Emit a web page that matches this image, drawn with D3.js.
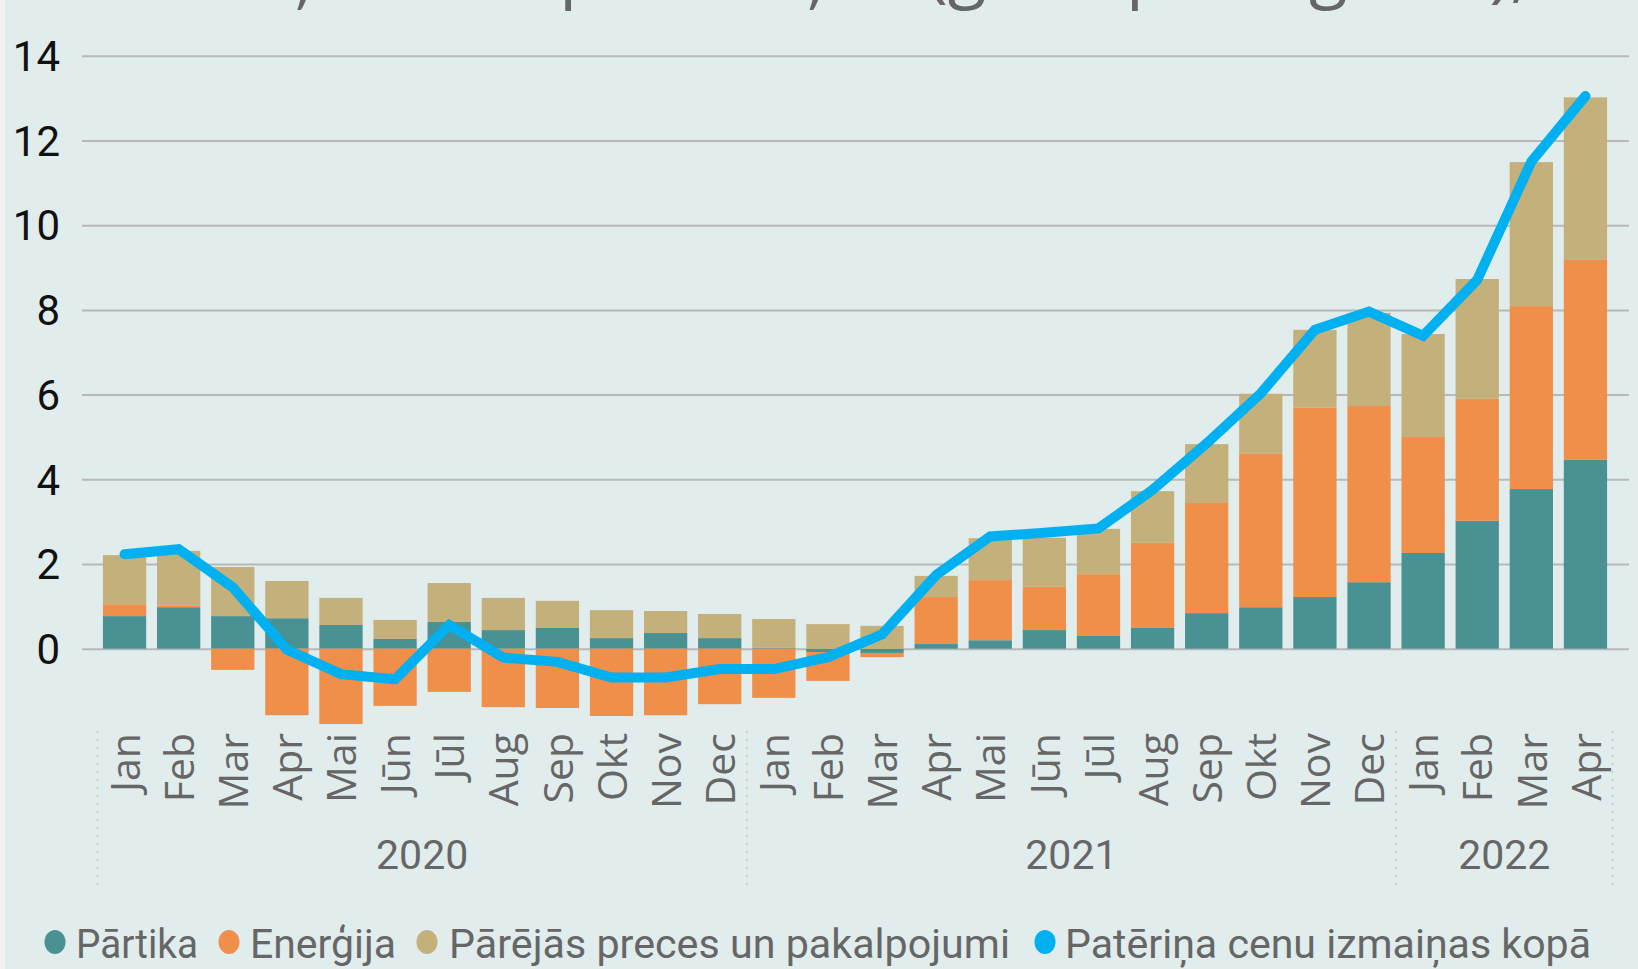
<!DOCTYPE html>
<html>
<head>
<meta charset="utf-8">
<script src="https://cdn.jsdelivr.net/npm/d3@7"></script>
<style>
  html, body { margin: 0; padding: 0; background: #e1eded; overflow: hidden; }
  svg { display: block; }
</style>
</head>
<body>
<div id="chart"></div>
<script>
// ---- data ----
var months = ['Jan','Feb','Mar','Apr','Mai','Jūn','Jūl','Aug','Sep','Okt','Nov','Dec',
              'Jan','Feb','Mar','Apr','Mai','Jūn','Jūl','Aug','Sep','Okt','Nov','Dec',
              'Jan','Feb','Mar','Apr'];
var monthYears = ['2020','2020','2020','2020','2020','2020','2020','2020','2020','2020','2020','2020',
                  '2021','2021','2021','2021','2021','2021','2021','2021','2021','2021','2021','2021',
                  '2022','2022','2022','2022'];
var years = ['2020', '2021', '2022'];

// Pārtika
var food = [0.77, 0.98, 0.77, 0.72, 0.56, 0.23, 0.63, 0.44, 0.49, 0.25, 0.37, 0.25,
            0.02, -0.08, -0.10, 0.11, 0.20, 0.44, 0.30, 0.49, 0.84, 0.98, 1.22, 1.57,
            2.26, 3.02, 3.77, 4.46];
// Enerģija
var energy = [0.28, 0.04, -0.50, -1.57, -1.78, -1.35, -1.02, -1.38, -1.40, -1.59, -1.57, -1.31,
              -1.16, -0.68, -0.10, 1.11, 1.42, 1.02, 1.46, 2.01, 2.60, 3.62, 4.47, 4.16,
              2.74, 2.88, 4.32, 4.72];
// Pārējās preces un pakalpojumi
var other = [1.16, 1.29, 1.16, 0.88, 0.64, 0.45, 0.92, 0.76, 0.64, 0.66, 0.52, 0.57,
             0.68, 0.58, 0.54, 0.50, 0.99, 1.16, 1.07, 1.22, 1.39, 1.42, 1.84, 2.20,
             2.43, 2.83, 3.40, 3.84];
// Patēriņa cenu izmaiņas kopā
var total = [2.23, 2.35, 1.45, -0.02, -0.60, -0.72, 0.56, -0.21, -0.31, -0.68, -0.68, -0.48,
             -0.48, -0.20, 0.34, 1.74, 2.65, 2.74, 2.84, 3.75, 4.85, 6.03, 7.53, 7.96,
             7.39, 8.71, 11.5, 13.05];

var yTicks = [0, 2, 4, 6, 8, 10, 12, 14];
var seriesKeys = ['food', 'energy', 'other'];
var seriesNames = ['Pārtika', 'Enerģija', 'Pārējās preces un pakalpojumi', 'Patēriņa cenu izmaiņas kopā'];
var seriesColors = ['#4a9193', '#f08f4a', '#c4b07b', '#00b0f0'];
var titleGuess = 'Patēriņa cenu pārmaiņas (gada pieaugums), %';

// ---- layout ----
var svgWidth = 1638, svgHeight = 969;
var plotLeft = 82, plotRight = 1629;
var axisFont = "Roboto, 'Open Sans', sans-serif";
var monthFont = "'Open Sans', 'Noto Sans', sans-serif";

var svg = d3.select('#chart').append('svg')
  .attr('width', svgWidth)
  .attr('height', svgHeight);

svg.append('rect').attr('width', svgWidth).attr('height', svgHeight).attr('fill', '#e1eded');
svg.append('rect').attr('width', 5).attr('height', svgHeight).attr('fill', '#f1f3f3');

var data = months.map(function(m, i) {
  return { id: i, month: m, year: monthYears[i], food: food[i], energy: energy[i], other: other[i], total: total[i] };
});

var x = d3.scaleBand()
  .domain(data.map(d => d.id))
  .range([97.5, 1612.5])
  .paddingInner(0.2)
  .paddingOuter(0.1);

var y = d3.scaleLinear()
  .domain([0, 14])
  .range([648.7, 55.8]);

// title, cut off by the top edge (only descenders show)
var title = svg.append('text')
  .attr('y', -5)
  .attr('font-family', monthFont)
  .attr('font-size', 70)
  .attr('fill', '#666')
  .text(titleGuess);
(function fitTitle() {
  var node = title.node();
  var iParen = titleGuess.indexOf('(');
  var iP = titleGuess.indexOf('pieaugums');
  var w1 = node.getSubStringLength(0, iParen);
  var w2 = node.getSubStringLength(0, iP);
  var fs = 70 * (1130 - 931) / (w2 - w1);
  title.attr('font-size', fs);
  var w1b = node.getSubStringLength(0, iParen);
  title.attr('x', 927 - w1b).attr('y', 11 - fs * 0.24);
})();

// gridlines + y labels
var yAxis = svg.append('g')
  .attr('transform', `translate(${plotLeft},0)`)
  .call(d3.axisLeft(y).tickValues(yTicks).tickSize(-(plotRight - plotLeft)).tickPadding(22));
yAxis.select('.domain').remove();
yAxis.selectAll('line').attr('stroke', '#b8b8b8').attr('stroke-width', 2);
yAxis.selectAll('text')
  .attr('font-family', axisFont)
  .attr('font-size', 42)
  .attr('fill', '#111')
  .attr('dy', '0.35em');

// stacked bars (diverging: negatives stack downward from zero)
var stacked = d3.stack().keys(seriesKeys).offset(d3.stackOffsetDiverging)(data);
var barGroups = svg.append('g').selectAll('g')
  .data(stacked)
  .enter()
  .append('g')
  .attr('fill', (d, i) => seriesColors[i]);
barGroups.selectAll('rect')
  .data(d => d)
  .enter()
  .append('rect')
  .attr('x', d => x(d.data.id))
  .attr('width', x.bandwidth())
  .attr('y', d => y(Math.max(d[0], d[1])))
  .attr('height', d => Math.abs(y(d[0]) - y(d[1])));

// total line
var line = d3.line()
  .x(d => x(d.id) + x.bandwidth() / 2)
  .y(d => y(d.total));
svg.append('path')
  .datum(data)
  .attr('d', line)
  .attr('fill', 'none')
  .attr('stroke', seriesColors[3])
  .attr('stroke-width', 10)
  .attr('stroke-linecap', 'round')
  .attr('stroke-linejoin', 'miter');

// month labels
var xAxis = svg.append('g')
  .attr('transform', 'translate(0,733)')
  .call(d3.axisBottom(x).tickSize(0).tickFormat(i => months[i]));
xAxis.select('.domain').remove();
xAxis.selectAll('text')
  .attr('transform', 'rotate(-90)')
  .attr('x', 0)
  .attr('y', 0)
  .attr('dy', '0.37em')
  .attr('text-anchor', 'end')
  .attr('font-family', monthFont)
  .attr('font-size', 41)
  .attr('fill', '#666');

// year groups: separators and labels
var gap = (x.step() - x.bandwidth()) / 2;
var yearSpans = years.map(function(yr) {
  var ids = data.filter(d => d.year === yr).map(d => d.id);
  return { year: yr, x0: x(d3.min(ids)) - gap, x1: x(d3.max(ids)) + x.bandwidth() + gap };
});
var seps = yearSpans.map(s => s.x0).concat([yearSpans[yearSpans.length - 1].x1]);
svg.append('g').selectAll('line')
  .data(seps)
  .enter()
  .append('line')
  .attr('x1', d => d).attr('x2', d => d)
  .attr('y1', 731).attr('y2', 889)
  .attr('stroke', '#c4c4c4')
  .attr('stroke-width', 1.5)
  .attr('stroke-dasharray', '2 6');
svg.append('g').selectAll('text')
  .data(yearSpans)
  .enter()
  .append('text')
  .attr('x', d => (d.x0 + d.x1) / 2)
  .attr('y', 855)
  .attr('dy', '0.35em')
  .attr('text-anchor', 'middle')
  .attr('font-family', axisFont)
  .attr('font-size', 41)
  .attr('fill', '#666')
  .text(d => d.year);

// legend
var legendCx = [55, 229, 427, 1045];
var legendTx = [76, 250, 449, 1065];
var legendW = [122, 146, 561, 526];
var legend = svg.append('g').selectAll('g')
  .data(seriesNames)
  .enter()
  .append('g');
legend.append('ellipse')
  .attr('cx', (d, i) => legendCx[i])
  .attr('cy', 942)
  .attr('rx', 10.5)
  .attr('ry', 12)
  .attr('fill', (d, i) => seriesColors[i]);
legend.append('text')
  .attr('x', (d, i) => legendTx[i])
  .attr('y', 958)
  .attr('font-family', axisFont)
  .attr('font-size', 40)
  .attr('fill', '#666')
  .attr('textLength', (d, i) => legendW[i])
  .attr('lengthAdjust', 'spacingAndGlyphs')
  .text(d => d);
</script>
</body>
</html>
